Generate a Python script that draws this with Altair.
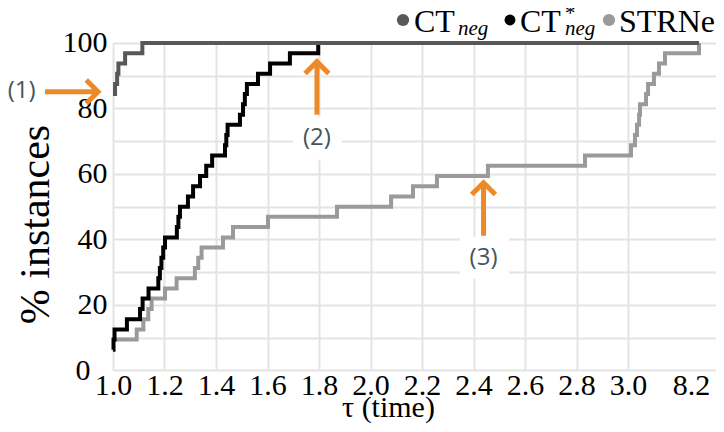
import altair as alt
import pandas as pd

# ---------------- data ----------------
# performance profile: tau (time ratio) -> % instances solved
ct_tau = [1.0, 1.008, 1.016, 1.021, 1.047, 1.114, 8.2]
ct_val = [84.4, 87.5, 90.6, 93.75, 96.9, 100.0, 100.0]

cts_tau = [1.0, 1.002, 1.006, 1.054, 1.105, 1.115, 1.138, 1.176, 1.182, 1.188,
           1.195, 1.202, 1.248, 1.254, 1.260, 1.291, 1.311, 1.338, 1.362, 1.385,
           1.435, 1.440, 1.445, 1.493, 1.505, 1.512, 1.520, 1.563, 1.610, 1.687,
           1.797, 8.2]
cts_val = [6.25, 9.4, 12.5, 15.6, 18.75, 21.9, 25.0, 28.1, 31.25, 34.4,
           37.5, 40.6, 43.75, 46.9, 50.0, 53.1, 56.25, 59.4, 62.5, 65.6,
           68.75, 71.9, 75.0, 78.1, 81.25, 84.4, 87.5, 90.6, 93.75, 96.9,
           100.0, 100.0]

st_tau = [1.0, 1.092, 1.118, 1.137, 1.150, 1.202, 1.247, 1.318, 1.331, 1.344,
          1.427, 1.466, 1.602, 1.870, 2.080, 2.165, 2.258, 2.456, 2.833, 3.22,
          3.51, 3.66, 3.81, 3.88, 4.32, 4.47, 4.90, 5.27, 5.71, 8.2]
st_val = [9.4, 12.5, 15.6, 18.75, 21.9, 25.0, 28.1, 31.25, 34.4, 37.5,
          40.6, 43.75, 46.9, 50.0, 53.1, 56.25, 59.4, 62.5, 65.6, 68.75,
          71.9, 75.0, 78.1, 81.25, 84.4, 87.5, 90.6, 93.75, 96.9, 100.0]

series_names = ["CT", "CT", "STRNe"]
x_tick_values = [1.0, 1.2, 1.4, 1.6, 1.8, 2.0, 2.2, 2.4, 2.6, 2.8, 3.0, 8.2]
y_tick_values = [0, 10, 20, 30, 40, 50, 60, 70, 80, 90, 100]

# annotations (1), (2), (3)
ann_label = ["(1)", "(2)", "(3)"]
ann_tip_tau = [0.942, 1.792, 2.439]
ann_tip_val = [85.1, 94.3, 57.3]
ann_tail_tau = [0.736, 1.792, 2.439]
ann_tail_val = [85.1, 78.1, 41.1]
ann_text_tau = [0.645, 1.792, 2.439]
ann_text_val = [85.2, 71.0, 34.4]
box_tau_lo = [1.699, 2.348]
box_tau_hi = [1.889, 2.538]
box_val_lo = [64.3, 28.0]
box_val_hi = [77.5, 40.8]

# ---------------- broken x axis: compress everything beyond 3.0 ----------------
BREAK = 3.0
K = 0.05302


def pos(t):
    return t if t <= BREAK else BREAK + (t - BREAK) * K


PLOT_W = 603
X_MAX = 1.0 + PLOT_W / 257.5

C_CT = "#585858"
C_CTS = "#000000"
C_ST = "#9a9a9a"
ORANGE = "#EC8A2A"
SERIF = "Liberation Serif"

x_axis = alt.Axis(
    values=[pos(t) for t in x_tick_values],
    labelExpr=f"datum.value > {BREAK + 0.05} ? '{x_tick_values[-1]}' : format(datum.value, '.1f')",
    labelOffset={"condition": {"test": f"datum.value > {BREAK + 0.05}", "value": -8}, "value": 0},
    gridOpacity={"condition": {"test": f"datum.value > {BREAK + 0.05}", "value": 0}, "value": 1},
    grid=True, gridColor="#e4e4e4", gridWidth=2,
    domain=False, ticks=False, tickSize=0,
    labelFont=SERIF, labelFontSize=30, labelColor="#000", labelPadding=0,
    labelFlush=False, labelOverlap=False,
    title="τ (time)", titleFont=SERIF, titleFontSize=30, titleFontWeight="normal",
    titleColor="#000", titleX=275, titleY=46, titleAlign="center",
    titleBaseline="alphabetic", titleAnchor="start",
)
y_axis = alt.Axis(
    values=y_tick_values,
    labelExpr="datum.value % 20 == 0 ? datum.label : ''",
    labelPadding={"condition": {"test": "datum.value == 0", "value": 23}, "value": 6},
    grid=True, gridColor="#e4e4e4", gridWidth=2,
    domain=False, ticks=False, tickSize=0,
    labelFont=SERIF, labelFontSize=30, labelColor="#000",
    labelOverlap=False, labelFlush=False,
    title="% instances", titleFont=SERIF, titleFontSize=42, titleFontWeight="normal",
    titleColor="#000", titleX=-65, titleY=181, titleAlign="center",
    titleBaseline="alphabetic", titleAngle=-90, titleAnchor="start",
)

xs = alt.Scale(domain=[1.0, X_MAX], zero=False, nice=False)
ys = alt.Scale(domain=[0, 100], zero=False, nice=False)
X = alt.X("p:Q", scale=xs, axis=x_axis)
Y = alt.Y("v:Q", scale=ys, axis=y_axis)


def line_df(taus, vals):
    return pd.DataFrame({"p": [pos(t) for t in taus], "v": vals})


def line_layer(taus, vals, color):
    return alt.Chart(line_df(taus, vals)).mark_line(
        interpolate="step-after", strokeWidth=4, color=color, strokeCap="butt", clip=False
    ).encode(x=X, y=Y)


boxes = alt.Chart(pd.DataFrame({
    "p": box_tau_lo, "p2": box_tau_hi, "v": box_val_lo, "v2": box_val_hi,
})).mark_rect(color="white").encode(x=X, x2="p2:Q", y=Y, y2="v2:Q")

ann_df = pd.DataFrame({
    "label": ann_label,
    "p": [pos(t) for t in ann_tail_tau], "v": ann_tail_val,
    "p2": [pos(t) for t in ann_tip_tau], "v2": ann_tip_val,
    "tp": [pos(t) for t in ann_text_tau], "tv": ann_text_val,
})

shafts = alt.Chart(ann_df).mark_rule(color=ORANGE, strokeWidth=5, strokeCap="butt").encode(
    x=X, x2="p2:Q", y=Y, y2="v2:Q")

heads_right = alt.Chart(ann_df.iloc[[0]]).mark_point(
    shape="M-1,-1L0,0L-1,1", filled=False, color=ORANGE, strokeWidth=5, size=560,
    opacity=1, strokeJoin="miter"
).encode(x=alt.X("p2:Q", scale=xs, axis=x_axis), y=alt.Y("v2:Q", scale=ys, axis=y_axis))

heads_up = alt.Chart(ann_df.iloc[[1, 2]]).mark_point(
    shape="M-1,1L0,0L1,1", filled=False, color=ORANGE, strokeWidth=5, size=560,
    opacity=1, strokeJoin="miter"
).encode(x=alt.X("p2:Q", scale=xs, axis=x_axis), y=alt.Y("v2:Q", scale=ys, axis=y_axis))

ann_text = alt.Chart(ann_df).mark_text(
    font="Open Sans", fontSize=24, fontWeight="normal", color="#44555d",
    align="center", baseline="middle"
).encode(x=alt.X("tp:Q", scale=xs, axis=x_axis), y=alt.Y("tv:Q", scale=ys, axis=y_axis),
         text="label:N")

# ---------------- legend (top right, drawn as text + dots) ----------------
dot1 = alt.Chart(pd.DataFrame({"a": [0]})).mark_point(
    shape="circle", filled=True, size=150, color=C_CT, opacity=1
).encode(x=alt.value(290), y=alt.value(-23))
dot2 = alt.Chart(pd.DataFrame({"a": [0]})).mark_point(
    shape="circle", filled=True, size=120, color=C_CTS, opacity=1
).encode(x=alt.value(397), y=alt.value(-23))
dot3 = alt.Chart(pd.DataFrame({"a": [0]})).mark_point(
    shape="circle", filled=True, size=150, color=C_ST, opacity=1
).encode(x=alt.value(496), y=alt.value(-23))


def txt(s, x, y, size, style="normal"):
    return alt.Chart(pd.DataFrame({"a": [0]})).mark_text(
        text=s, font=SERIF, fontSize=size, fontStyle=style, color="#000",
        align="left", baseline="alphabetic"
    ).encode(x=alt.value(x), y=alt.value(y))


legend = (dot1 + txt(series_names[0], 301, -11, 32) + txt("neg", 345, -8, 21, "italic")
          + dot2 + txt(series_names[1], 407, -11, 32) + txt("*", 452, -23, 21)
          + txt("neg", 452, -8, 21, "italic")
          + dot3 + txt(series_names[2], 506, -11, 32))

chart = alt.layer(
    line_layer(st_tau, st_val, C_ST),
    boxes,
    line_layer(cts_tau, cts_val, C_CTS),
    line_layer(ct_tau, ct_val, C_CT),
    shafts, heads_right, heads_up, ann_text,
    legend,
).properties(
    width=PLOT_W, height=327.3,
    padding={"left": 105, "top": 35, "right": 0, "bottom": 53.5},
    autosize="none",
    background="white",
).configure(
    font=SERIF
).configure_axis(
    labelFont=SERIF, titleFont=SERIF
).configure_view(stroke=None)

chart.save("out.html", embed_options={"renderer": "svg", "actions": False})
